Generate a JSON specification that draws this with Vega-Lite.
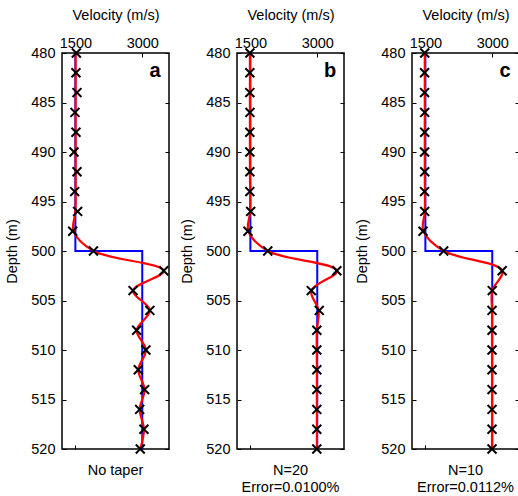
{
  "$schema": "https://vega.github.io/schema/vega-lite/v6.json",
  "background": "white",
  "padding": {"left": 4, "top": 6, "right": 5, "bottom": 5},
  "config": {
    "font": "Liberation Sans",
    "view": {"stroke": "black", "strokeWidth": 1.5},
    "axis": {
      "domain": false,
      "grid": false,
      "format": "d",
      "labelFont": "Liberation Sans",
      "labelFontSize": 14.5,
      "labelColor": "black",
      "titleFont": "Liberation Sans",
      "titleFontSize": 14.5,
      "titleFontWeight": "normal",
      "titleColor": "black",
      "tickColor": "black",
      "tickWidth": 1,
      "tickSize": -4
    },
    "title": {"font": "Liberation Sans", "fontSize": 14.5, "fontWeight": "normal", "color": "black"}
  },
  "datasets": {
    "blue": [
      {"i": 1, "v": 1500, "depth": 480},
      {"i": 2, "v": 1500, "depth": 500},
      {"i": 3, "v": 3000, "depth": 500},
      {"i": 4, "v": 3000, "depth": 520}
    ],
    "markers": [
      {"panel": "a", "depth": 480, "v": 1522}, {"panel": "a", "depth": 482, "v": 1513}, {"panel": "a", "depth": 484, "v": 1536},
      {"panel": "a", "depth": 486, "v": 1491}, {"panel": "a", "depth": 488, "v": 1513}, {"panel": "a", "depth": 490, "v": 1469},
      {"panel": "a", "depth": 492, "v": 1536}, {"panel": "a", "depth": 494, "v": 1484}, {"panel": "a", "depth": 496, "v": 1551},
      {"panel": "a", "depth": 498, "v": 1440}, {"panel": "a", "depth": 500, "v": 1906}, {"panel": "a", "depth": 502, "v": 3482},
      {"panel": "a", "depth": 504, "v": 2793}, {"panel": "a", "depth": 506, "v": 3171}, {"panel": "a", "depth": 508, "v": 2875},
      {"panel": "a", "depth": 510, "v": 3082}, {"panel": "a", "depth": 512, "v": 2911}, {"panel": "a", "depth": 514, "v": 3053},
      {"panel": "a", "depth": 516, "v": 2942}, {"panel": "a", "depth": 518, "v": 3038}, {"panel": "a", "depth": 520, "v": 2956},
      {"panel": "b", "depth": 480, "v": 1490}, {"panel": "b", "depth": 482, "v": 1488}, {"panel": "b", "depth": 484, "v": 1488},
      {"panel": "b", "depth": 486, "v": 1490}, {"panel": "b", "depth": 488, "v": 1488}, {"panel": "b", "depth": 490, "v": 1488},
      {"panel": "b", "depth": 492, "v": 1488}, {"panel": "b", "depth": 494, "v": 1488}, {"panel": "b", "depth": 496, "v": 1507},
      {"panel": "b", "depth": 498, "v": 1446}, {"panel": "b", "depth": 500, "v": 1890}, {"panel": "b", "depth": 502, "v": 3439},
      {"panel": "b", "depth": 504, "v": 2866}, {"panel": "b", "depth": 506, "v": 3045}, {"panel": "b", "depth": 508, "v": 2990},
      {"panel": "b", "depth": 510, "v": 2990}, {"panel": "b", "depth": 512, "v": 2990}, {"panel": "b", "depth": 514, "v": 2990},
      {"panel": "b", "depth": 516, "v": 2990}, {"panel": "b", "depth": 518, "v": 2990}, {"panel": "b", "depth": 520, "v": 2990},
      {"panel": "c", "depth": 480, "v": 1485}, {"panel": "c", "depth": 482, "v": 1482}, {"panel": "c", "depth": 484, "v": 1482},
      {"panel": "c", "depth": 486, "v": 1485}, {"panel": "c", "depth": 488, "v": 1485}, {"panel": "c", "depth": 490, "v": 1482},
      {"panel": "c", "depth": 492, "v": 1485}, {"panel": "c", "depth": 494, "v": 1482}, {"panel": "c", "depth": 496, "v": 1485},
      {"panel": "c", "depth": 498, "v": 1447}, {"panel": "c", "depth": 500, "v": 1910}, {"panel": "c", "depth": 502, "v": 3222},
      {"panel": "c", "depth": 504, "v": 3000}, {"panel": "c", "depth": 506, "v": 2995}, {"panel": "c", "depth": 508, "v": 2995},
      {"panel": "c", "depth": 510, "v": 2995}, {"panel": "c", "depth": 512, "v": 2995}, {"panel": "c", "depth": 514, "v": 2995},
      {"panel": "c", "depth": 516, "v": 2995}, {"panel": "c", "depth": 518, "v": 2995}, {"panel": "c", "depth": 520, "v": 2995}
    ],
    "red": [
      {"panel": "a", "depth": 480, "v": 1505}, {"panel": "a", "depth": 484, "v": 1505}, {"panel": "a", "depth": 488, "v": 1505},
      {"panel": "a", "depth": 492, "v": 1505}, {"panel": "a", "depth": 496, "v": 1500}, {"panel": "a", "depth": 498, "v": 1460},
      {"panel": "a", "depth": 500, "v": 1906}, {"panel": "a", "depth": 502, "v": 3482},
      {"panel": "a", "depth": 504, "v": 2793}, {"panel": "a", "depth": 506, "v": 3171}, {"panel": "a", "depth": 508, "v": 2875},
      {"panel": "a", "depth": 510, "v": 3082}, {"panel": "a", "depth": 512, "v": 2911}, {"panel": "a", "depth": 514, "v": 3053},
      {"panel": "a", "depth": 516, "v": 2942}, {"panel": "a", "depth": 518, "v": 3038}, {"panel": "a", "depth": 520, "v": 2956},
      {"panel": "b", "depth": 480, "v": 1490}, {"panel": "b", "depth": 484, "v": 1490}, {"panel": "b", "depth": 488, "v": 1490},
      {"panel": "b", "depth": 492, "v": 1490}, {"panel": "b", "depth": 496, "v": 1495}, {"panel": "b", "depth": 498, "v": 1455},
      {"panel": "b", "depth": 500, "v": 1890}, {"panel": "b", "depth": 502, "v": 3439},
      {"panel": "b", "depth": 504, "v": 2866}, {"panel": "b", "depth": 506, "v": 3030}, {"panel": "b", "depth": 508, "v": 2992},
      {"panel": "b", "depth": 512, "v": 2992}, {"panel": "b", "depth": 516, "v": 2992}, {"panel": "b", "depth": 520, "v": 2992},
      {"panel": "c", "depth": 480, "v": 1487}, {"panel": "c", "depth": 484, "v": 1487}, {"panel": "c", "depth": 488, "v": 1487},
      {"panel": "c", "depth": 492, "v": 1487}, {"panel": "c", "depth": 496, "v": 1487}, {"panel": "c", "depth": 498, "v": 1455},
      {"panel": "c", "depth": 500, "v": 1910}, {"panel": "c", "depth": 502, "v": 3222},
      {"panel": "c", "depth": 504, "v": 3000}, {"panel": "c", "depth": 506, "v": 2995}, {"panel": "c", "depth": 510, "v": 2995},
      {"panel": "c", "depth": 514, "v": 2995}, {"panel": "c", "depth": 520, "v": 2995}
    ],
    "letters": [
      {"panel": "a", "label": "a", "v": 3290, "depth": 481.8},
      {"panel": "b", "label": "b", "v": 3290, "depth": 481.8},
      {"panel": "c", "label": "c", "v": 3290, "depth": 481.8}
    ]
  },
  "spacing": 68,
  "bounds": "flush",
  "hconcat": [
    {
      "width": 107, "height": 396,
      "title": {"text": "No taper", "orient": "bottom", "anchor": "middle", "offset": 7, "lineHeight": 17},
      "resolve": {"axis": {"x": "independent", "y": "independent"}},
      "layer": [
        {
          "data": {"name": "blue"},
          "mark": {"type": "line", "color": "#0000ff", "strokeWidth": 2},
          "encoding": {
            "x": {"field": "v", "type": "quantitative", "scale": {"domain": [1200, 3600], "nice": false, "zero": false},
                  "axis": {"orient": "top", "title": "Velocity (m/s)", "values": [1500, 3000], "labelPadding": 7, "titlePadding": 13}},
            "y": {"field": "depth", "type": "quantitative", "scale": {"domain": [480, 520], "nice": false, "zero": false, "reverse": true},
                  "axis": {"orient": "left", "title": "Depth (m)", "values": [480,485,490,495,500,505,510,515,520], "labelPadding": 11, "titlePadding": 11}},
            "order": {"field": "i", "type": "quantitative"}
          }
        },
        {
          "data": {"name": "red"},
          "transform": [{"filter": "datum.panel == 'a'"}],
          "mark": {"type": "line", "color": "#ff0000", "strokeWidth": 2.2, "interpolate": "catmull-rom", "clip": true},
          "encoding": {
            "x": {"field": "v", "type": "quantitative", "scale": {"domain": [1200, 3600], "nice": false, "zero": false},
                  "axis": {"orient": "bottom", "title": null, "labels": false, "values": [1500, 3000]}},
            "y": {"field": "depth", "type": "quantitative", "scale": {"domain": [480, 520], "nice": false, "zero": false, "reverse": true},
                  "axis": {"orient": "right", "title": null, "labels": false, "values": [480,485,490,495,500,505,510,515,520]}},
            "order": {"field": "depth", "type": "quantitative"}
          }
        },
        {
          "data": {"name": "markers"},
          "transform": [{"filter": "datum.panel == 'a'"}],
          "mark": {"type": "point", "shape": "M-1,-1L1,1M-1,1L1,-1", "filled": false, "stroke": "black", "strokeWidth": 2, "size": 80, "opacity": 1},
          "encoding": {
            "x": {"field": "v", "type": "quantitative", "axis": null},
            "y": {"field": "depth", "type": "quantitative", "axis": null}
          }
        },
        {
          "data": {"name": "letters"},
          "transform": [{"filter": "datum.panel == 'a'"}],
          "mark": {"type": "text", "fontSize": 20, "fontWeight": "bold", "font": "Liberation Sans", "color": "black", "align": "center", "baseline": "middle"},
          "encoding": {
            "x": {"field": "v", "type": "quantitative", "axis": null},
            "y": {"field": "depth", "type": "quantitative", "axis": null},
            "text": {"field": "label"}
          }
        }
      ]
    },
    {
      "width": 107, "height": 396,
      "title": {"text": ["N=20", "Error=0.0100%"], "orient": "bottom", "anchor": "middle", "offset": 7, "lineHeight": 17},
      "resolve": {"axis": {"x": "independent", "y": "independent"}},
      "layer": [
        {
          "data": {"name": "blue"},
          "mark": {"type": "line", "color": "#0000ff", "strokeWidth": 2},
          "encoding": {
            "x": {"field": "v", "type": "quantitative", "scale": {"domain": [1200, 3600], "nice": false, "zero": false},
                  "axis": {"orient": "top", "title": "Velocity (m/s)", "values": [1500, 3000], "labelPadding": 7, "titlePadding": 13}},
            "y": {"field": "depth", "type": "quantitative", "scale": {"domain": [480, 520], "nice": false, "zero": false, "reverse": true},
                  "axis": {"orient": "left", "title": "Depth (m)", "values": [480,485,490,495,500,505,510,515,520], "labelPadding": 11, "titlePadding": 11}},
            "order": {"field": "i", "type": "quantitative"}
          }
        },
        {
          "data": {"name": "red"},
          "transform": [{"filter": "datum.panel == 'b'"}],
          "mark": {"type": "line", "color": "#ff0000", "strokeWidth": 2.2, "interpolate": "catmull-rom", "clip": true},
          "encoding": {
            "x": {"field": "v", "type": "quantitative", "scale": {"domain": [1200, 3600], "nice": false, "zero": false},
                  "axis": {"orient": "bottom", "title": null, "labels": false, "values": [1500, 3000]}},
            "y": {"field": "depth", "type": "quantitative", "scale": {"domain": [480, 520], "nice": false, "zero": false, "reverse": true},
                  "axis": {"orient": "right", "title": null, "labels": false, "values": [480,485,490,495,500,505,510,515,520]}},
            "order": {"field": "depth", "type": "quantitative"}
          }
        },
        {
          "data": {"name": "markers"},
          "transform": [{"filter": "datum.panel == 'b'"}],
          "mark": {"type": "point", "shape": "M-1,-1L1,1M-1,1L1,-1", "filled": false, "stroke": "black", "strokeWidth": 2, "size": 80, "opacity": 1},
          "encoding": {
            "x": {"field": "v", "type": "quantitative", "axis": null},
            "y": {"field": "depth", "type": "quantitative", "axis": null}
          }
        },
        {
          "data": {"name": "letters"},
          "transform": [{"filter": "datum.panel == 'b'"}],
          "mark": {"type": "text", "fontSize": 20, "fontWeight": "bold", "font": "Liberation Sans", "color": "black", "align": "center", "baseline": "middle"},
          "encoding": {
            "x": {"field": "v", "type": "quantitative", "axis": null},
            "y": {"field": "depth", "type": "quantitative", "axis": null},
            "text": {"field": "label"}
          }
        }
      ]
    },
    {
      "width": 107, "height": 396,
      "title": {"text": ["N=10", "Error=0.0112%"], "orient": "bottom", "anchor": "middle", "offset": 7, "lineHeight": 17},
      "resolve": {"axis": {"x": "independent", "y": "independent"}},
      "layer": [
        {
          "data": {"name": "blue"},
          "mark": {"type": "line", "color": "#0000ff", "strokeWidth": 2},
          "encoding": {
            "x": {"field": "v", "type": "quantitative", "scale": {"domain": [1200, 3600], "nice": false, "zero": false},
                  "axis": {"orient": "top", "title": "Velocity (m/s)", "values": [1500, 3000], "labelPadding": 7, "titlePadding": 13}},
            "y": {"field": "depth", "type": "quantitative", "scale": {"domain": [480, 520], "nice": false, "zero": false, "reverse": true},
                  "axis": {"orient": "left", "title": "Depth (m)", "values": [480,485,490,495,500,505,510,515,520], "labelPadding": 11, "titlePadding": 11}},
            "order": {"field": "i", "type": "quantitative"}
          }
        },
        {
          "data": {"name": "red"},
          "transform": [{"filter": "datum.panel == 'c'"}],
          "mark": {"type": "line", "color": "#ff0000", "strokeWidth": 2.2, "interpolate": "catmull-rom", "clip": true},
          "encoding": {
            "x": {"field": "v", "type": "quantitative", "scale": {"domain": [1200, 3600], "nice": false, "zero": false},
                  "axis": {"orient": "bottom", "title": null, "labels": false, "values": [1500, 3000]}},
            "y": {"field": "depth", "type": "quantitative", "scale": {"domain": [480, 520], "nice": false, "zero": false, "reverse": true},
                  "axis": {"orient": "right", "title": null, "labels": false, "values": [480,485,490,495,500,505,510,515,520]}},
            "order": {"field": "depth", "type": "quantitative"}
          }
        },
        {
          "data": {"name": "markers"},
          "transform": [{"filter": "datum.panel == 'c'"}],
          "mark": {"type": "point", "shape": "M-1,-1L1,1M-1,1L1,-1", "filled": false, "stroke": "black", "strokeWidth": 2, "size": 80, "opacity": 1},
          "encoding": {
            "x": {"field": "v", "type": "quantitative", "axis": null},
            "y": {"field": "depth", "type": "quantitative", "axis": null}
          }
        },
        {
          "data": {"name": "letters"},
          "transform": [{"filter": "datum.panel == 'c'"}],
          "mark": {"type": "text", "fontSize": 20, "fontWeight": "bold", "font": "Liberation Sans", "color": "black", "align": "center", "baseline": "middle"},
          "encoding": {
            "x": {"field": "v", "type": "quantitative", "axis": null},
            "y": {"field": "depth", "type": "quantitative", "axis": null},
            "text": {"field": "label"}
          }
        }
      ]
    }
  ]
}
